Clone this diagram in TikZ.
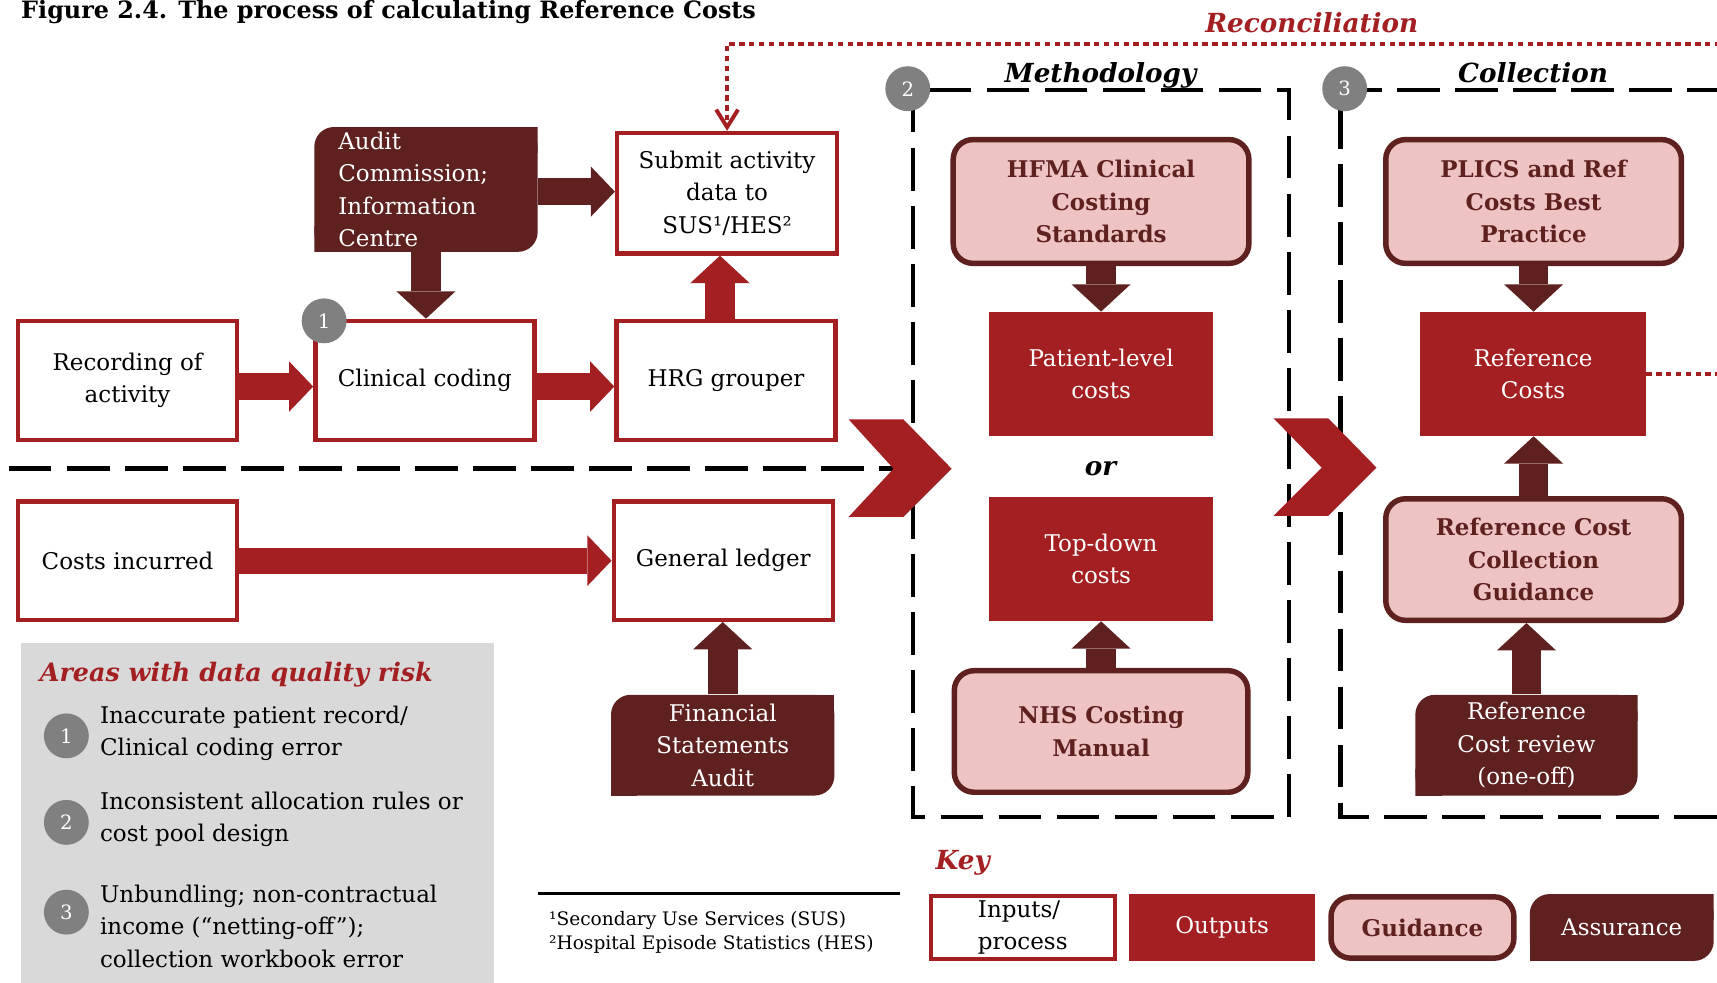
\documentclass[tikz,border=0pt]{standalone}
\usepackage{fontspec}
\setmainfont{DejaVu Serif}
\usetikzlibrary{arrows.meta,calc}

\definecolor{pwred}{HTML}{A31F22}
\definecolor{pwmaroon}{HTML}{5E2120}
\definecolor{pwpink}{HTML}{EDC4C3}
\definecolor{badgegrey}{HTML}{808080}
\definecolor{panelgrey}{HTML}{D9D9D9}

\newcommand\rcBody{\fontsize{10.5pt}{14.75pt}\selectfont}
\newcommand\rcHead{\fontsize{12pt}{14pt}\selectfont\bfseries\itshape}
\newcommand\rcRisk{\fontsize{11.6pt}{14pt}\selectfont\bfseries\itshape}
\newcommand\rcTitle{\fontsize{10.9pt}{13pt}\selectfont\bfseries}
\newcommand\rcNote{\fontsize{8.5pt}{11.5pt}\selectfont}
\newcommand\rcBadge{\fontsize{9pt}{10pt}\selectfont}

\tikzset{
  x=0.5pt, y=-0.5pt,
  boxbase/.style={rectangle, inner sep=0pt, align=center, font=\rcBody},
  inbox/.style={boxbase, draw=pwred, line width=2pt, fill=white},
  outbox/.style={boxbase, fill=pwred, text=white},
  guidebox/.style={boxbase, draw=pwmaroon, line width=2.5pt, fill=pwpink,
    rounded corners=9pt, text=pwmaroon, font=\rcBody\bfseries},
  assurebox/.style={boxbase, text=white, path picture={
    \fill[pwmaroon, rounded corners=9pt] (path picture bounding box.south west)
      rectangle (path picture bounding box.north east);
    \fill[pwmaroon] (path picture bounding box.north east) rectangle ++(-12pt,-12pt);
    \fill[pwmaroon] (path picture bounding box.south west) rectangle ++(12pt,12pt);
  }},
  badgedot/.style={circle, fill=badgegrey, text=white, minimum size=20.5pt,
    inner sep=0pt, font=\rcBadge},
  hfat/.style={line width=12pt, -{Triangle[length=11pt,width=23pt,line width=0pt]}},
  vfat/.style={line width=13.5pt, -{Triangle[length=12.5pt,width=27pt,line width=0pt]}},
  dashframe/.style={draw=black, line width=2pt, dash pattern=on 19.5pt off 7pt},
  recondots/.style={draw=pwred, line width=1.8pt, dash pattern=on 2.5pt off 2pt},
}

\begin{document}
\begin{tikzpicture}
\useasboundingbox (0,0) rectangle (1568,897);
\clip (0,0) rectangle (1568,897);
\fill[white] (0,0) rectangle (1568,897);

% title
\node[anchor=base west, font=\rcTitle, inner sep=0pt] (title) at (19,17)
  {Figure 2.4. The process of calculating Reference Costs};

% risk panel background
\fill[panelgrey] (19,587) rectangle (451,900);

% dashed separators and stage frames
\draw[dashframe] (8,428) -- (820,428);
\draw[dashframe] (834,82) -- (834,746) -- (1177,746) -- (1177,82) -- cycle;
\draw[dashframe] (1580,82) -- (1224,82) -- (1224,746) -- (1580,746);

% big chevrons between the stages
\fill[pwred] (775,383) -- (825,383) -- (869,428) -- (825,472) -- (775,472) -- (816,428) -- cycle;
\fill[pwred] (1163,382) -- (1213,382) -- (1257,427) -- (1213,471) -- (1163,471) -- (1207,427) -- cycle;

% stage headings
\node[anchor=base, font=\rcHead] (meth) at (1005,75) {Methodology};
\node[anchor=base, font=\rcHead] (coll) at (1400,75) {Collection};
\node[anchor=base, font=\rcHead, text=pwred] (recon) at (1198,30) {Reconciliation};
\node[font=\rcHead] (orlbl) at (1005,428) {or};

% inputs / process
\node[inbox, minimum width=100pt, minimum height=54.5pt] (rec) at (116.5,347.5) {Recording of\\activity};
\node[inbox, minimum width=100pt, minimum height=54.5pt] (cc) at (388,347.5) {Clinical coding};
\node[inbox, minimum width=100pt, minimum height=54.5pt] (hrg) at (663,347.5) {HRG grouper};
\node[inbox, minimum width=100.5pt, minimum height=55pt] (sub) at (664,176.5) {Submit activity\\data to\\SUS¹/HES²};
\node[inbox, minimum width=100pt, minimum height=54pt] (cost) at (116.5,512) {Costs incurred};
\node[inbox, minimum width=100pt, minimum height=54pt] (gl) at (660.5,512) {General ledger};

% assurance
\node[assurebox, minimum width=102pt, minimum height=57pt, text width=80pt, align=left] (aud) at (389,173)
  {Audit\\Commission;\\Information\\Centre};
\node[assurebox, minimum width=102pt, minimum height=46pt] (fsa) at (660,680.5) {Financial\\Statements\\Audit};
\node[assurebox, minimum width=101.5pt, minimum height=46pt] (rcr) at (1394,680.5) {Reference\\Cost review\\(one-off)};

% outputs
\node[outbox, minimum width=102.5pt, minimum height=56.5pt] (plc) at (1005.5,341.5) {Patient-level\\costs};
\node[outbox, minimum width=102.5pt, minimum height=56.5pt] (tdc) at (1005.5,510.5) {Top-down\\costs};
\node[outbox, minimum width=103pt, minimum height=56.5pt] (refc) at (1400,341.5) {Reference\\Costs};

% guidance
\node[guidebox, minimum width=135pt, minimum height=56.5pt] (hfma) at (1005.5,184) {HFMA Clinical\\Costing\\Standards};
\node[guidebox, minimum width=135pt, minimum height=56.5pt] (plics) at (1400.5,184) {PLICS and Ref\\Costs Best\\Practice};
\node[guidebox, minimum width=134pt, minimum height=55.5pt] (nhs) at (1005.5,668) {NHS Costing\\Manual};
\node[guidebox, minimum width=135pt, minimum height=55.5pt] (rccg) at (1400.5,511) {Reference Cost\\Collection\\Guidance};

% flow arrows
\draw[hfat, pwred] ([yshift=-2.75pt]rec.east) -- ([yshift=-2.75pt]cc.west);
\draw[hfat, pwred] ([yshift=-2.75pt]cc.east) -- ([yshift=-2.75pt]hrg.west);
\draw[vfat, pwred] ([xshift=-2.75pt]hrg.north) -- ([xshift=-2.75pt]hrg.north |- sub.south);
\draw[hfat, pwred] (cost.east) -- (cost.east -| gl.west);
\draw[hfat, pwmaroon] ([yshift=-1pt]aud.east) -- ([yshift=-1pt]aud.east -| sub.west);
\draw[vfat, pwmaroon] (aud.south) -- (aud.south |- cc.north);
\draw[vfat, pwmaroon] (fsa.north) -- (fsa.north |- gl.south);
\draw[vfat, pwmaroon] (hfma.south) -- (hfma.south |- plc.north);
\draw[vfat, pwmaroon] (plics.south) -- (plics.south |- refc.north);
\draw[vfat, pwmaroon] (nhs.north) -- (nhs.north |- tdc.south);
\draw[vfat, pwmaroon] (rccg.north) -- (rccg.north |- refc.south);
\draw[vfat, pwmaroon] (rcr.north) -- (rcr.north |- rccg.south);

% reconciliation loop
\coordinate (reconend) at (1580,341.5);
\coordinate (reconstart) at (1580,40);
\coordinate (reconcorner) at (664,40);
\draw[recondots, -{Straight Barb[length=8pt,width=10pt]}] (reconstart) -- (reconcorner) -- (sub.north);
\draw[recondots] (refc.east) -- (reconend);

% numbered risk badges
\node[badgedot] (b1) at (296,293) {1};
\node[badgedot] (b2) at (829,81) {2};
\node[badgedot] (b3) at (1228,81) {3};

% risk panel
\node[anchor=base west, font=\rcRisk, text=pwred, inner sep=0pt] (risk) at (36,622) {Areas with data quality risk};
\node[badgedot] (p1) at (60.6,672) {1};
\node[badgedot] (p2) at (60.6,751) {2};
\node[badgedot] (p3) at (60.6,833) {3};
\node[anchor=west, align=left, font=\rcBody, inner sep=0pt] (t1) at (91,669.5) {Inaccurate patient record/\\Clinical coding error};
\node[anchor=west, align=left, font=\rcBody, inner sep=0pt] (t2) at (91,748.5) {Inconsistent allocation rules or\\cost pool design};
\node[anchor=west, align=left, font=\rcBody, inner sep=0pt] (t3) at (91,846) {Unbundling; non-contractual\\income (“netting-off”);\\collection workbook error};

% footnotes
\coordinate (ruleL) at (491,816);
\coordinate (ruleR) at (822,816);
\draw[line width=1pt] (ruleL) -- (ruleR);
\node[anchor=base west, font=\rcNote, inner sep=0pt] (fn1) at (501,845) {¹Secondary Use Services (SUS)};
\node[anchor=base west, font=\rcNote, inner sep=0pt] (fn2) at (501,867) {²Hospital Episode Statistics (HES)};

% key
\node[anchor=base west, font=\rcHead, text=pwred, inner sep=0pt] (keylbl) at (854,794) {Key};
\node[inbox, minimum width=84pt, minimum height=28.5pt, align=left] (kin) at (934,847) {Inputs/\\process};
\node[outbox, minimum width=85pt, minimum height=30.5pt] (kout) at (1116,847) {Outputs};
\node[guidebox, minimum width=83.5pt, minimum height=28pt] (kgd) at (1299,847) {Guidance};
\node[assurebox, minimum width=84pt, minimum height=30.5pt] (kas) at (1481,847) {Assurance};
\end{tikzpicture}
\end{document}
